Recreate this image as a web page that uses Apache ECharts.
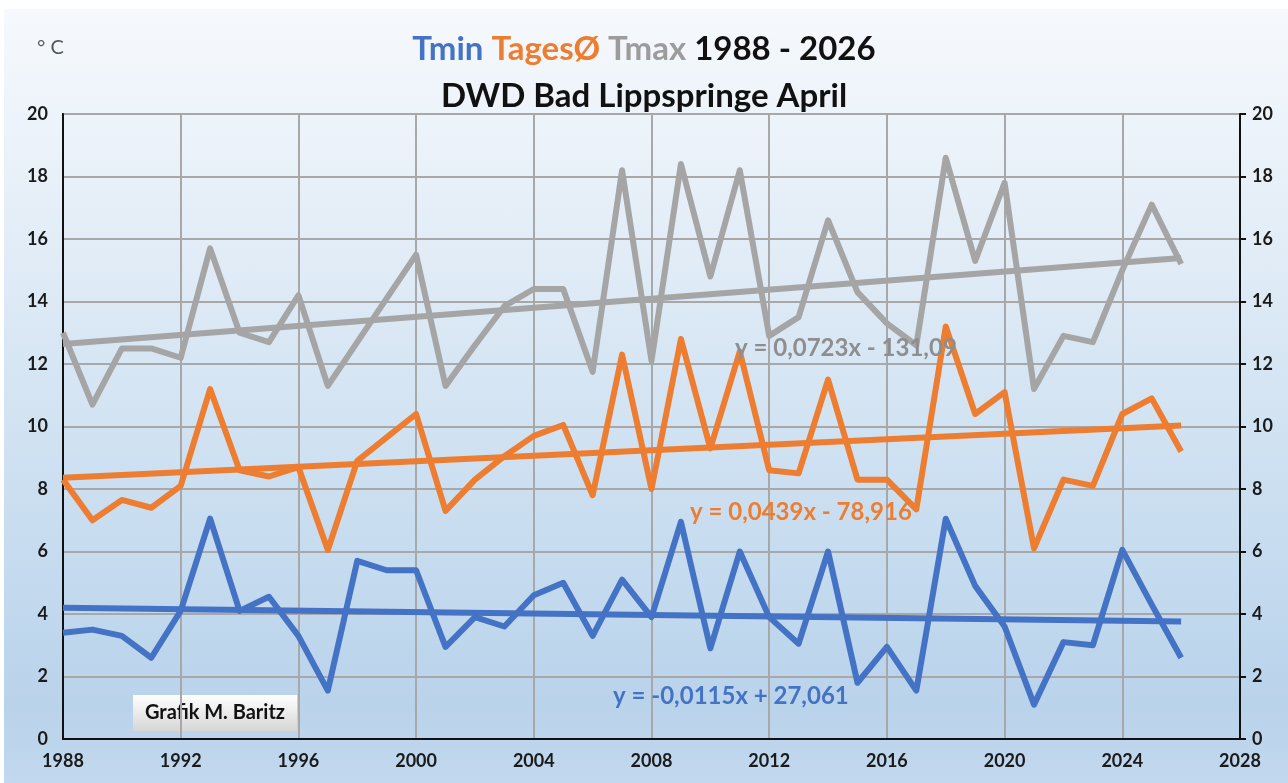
<!DOCTYPE html>
<html>
<head>
<meta charset="utf-8">
<script src="https://cdn.jsdelivr.net/npm/echarts@6/dist/echarts.min.js"></script>
<style>
  body { margin: 0; background: #fff; }
  .bg {
    position: absolute; left: 4px; top: 9px; width: 1284px; height: 774px;
    background: linear-gradient(to bottom, #f6f9fd 0%, #e6eff8 25%, #cde0f1 60%, #b9d3eb 90%, #c2d8ee 100%);
  }
  #chart { position: absolute; left: 0; top: 0; width: 1288px; height: 783px; }
</style>
</head>
<body>
<div class="bg"></div>
<div id="chart"></div>
<script>
// Jahre und Monatsmittel April (°C)
const years = [1988, 1989, 1990, 1991, 1992, 1993, 1994, 1995, 1996, 1997,
  1998, 1999, 2000, 2001, 2002, 2003, 2004, 2005, 2006, 2007,
  2008, 2009, 2010, 2011, 2012, 2013, 2014, 2015, 2016, 2017,
  2018, 2019, 2020, 2021, 2022, 2023, 2024, 2025, 2026];

const tmax = [13.0, 10.7, 12.5, 12.5, 12.2, 15.7, 13.0, 12.7, 14.2, 11.3,
  12.7, 14.1, 15.5, 11.3, 12.6, 13.85, 14.4, 14.4, 11.75, 18.2,
  12.1, 18.4, 14.8, 18.2, 12.9, 13.5, 16.6, 14.3, 13.3, 12.6,
  18.6, 15.3, 17.8, 11.2, 12.9, 12.7, 15.0, 17.1, 15.2];

const tages = [8.3, 7.0, 7.65, 7.4, 8.1, 11.2, 8.6, 8.4, 8.7, 6.05,
  8.9, 9.65, 10.4, 7.3, 8.3, 9.05, 9.7, 10.05, 7.8, 12.3,
  8.0, 12.8, 9.3, 12.4, 8.6, 8.5, 11.5, 8.3, 8.3, 7.35,
  13.2, 10.4, 11.1, 6.1, 8.3, 8.1, 10.4, 10.9, 9.2];

const tmin = [3.4, 3.5, 3.3, 2.6, 4.1, 7.05, 4.1, 4.55, 3.3, 1.55,
  5.7, 5.4, 5.4, 2.95, 3.9, 3.6, 4.6, 5.0, 3.3, 5.1,
  3.9, 6.95, 2.9, 6.0, 3.9, 3.05, 6.0, 1.8, 2.95, 1.55,
  7.05, 4.9, 3.6, 1.1, 3.1, 3.0, 6.05, 4.3, 2.6];

// Trendlinien (Anfang 1988 / Ende 2026)
const trendYears = [1988, 2026];
const tmaxTrend = [12.64, 15.39];
const tagesTrend = [8.36, 10.03];
const tminTrend = [4.20, 3.76];

const yTicks = [0, 2, 4, 6, 8, 10, 12, 14, 16, 18, 20];

const BLUE = '#4472c4';
const ORANGE = '#ed7d31';
const GRAY = '#a5a5a5';
const FONT = 'Lato, "Open Sans", sans-serif';

const pairs = (xs, ys) => xs.map((x, i) => [x, ys[i]]);

const lineSeries = (name, color, data, z) => ({
  name: name,
  type: 'line',
  data: data,
  showSymbol: false,
  symbol: 'none',
  z: z,
  lineStyle: { color: color, width: 6, join: 'round' },
  itemStyle: { color: color },
  animation: false
});

const chart = echarts.init(document.getElementById('chart'));

const labelStyle = { color: '#1a1a1a', fontFamily: FONT, fontWeight: 'bold', fontSize: 18 };
const titlePart = color => ({ color: color, fontSize: 33, fontWeight: 'bold', fontFamily: FONT });

const yAxisBase = {
  type: 'value',
  min: yTicks[0],
  max: yTicks[yTicks.length - 1],
  interval: 2,
  axisLine: { show: true, lineStyle: { color: '#111', width: 2 } },
  splitLine: { show: false }
};

chart.setOption({
  backgroundColor: 'transparent',
  textStyle: { fontFamily: FONT },
  title: [
    {
      text: '{b|Tmin }{o|TagesØ }{g|Tmax }{k|1988 - 2026}',
      left: 'center', top: 28,
      textStyle: {
        rich: {
          b: titlePart(BLUE),
          o: titlePart(ORANGE),
          g: titlePart('#9c9c9c'),
          k: titlePart('#111')
        }
      }
    },
    {
      text: 'DWD Bad Lippspringe April',
      left: 'center', top: 75,
      textStyle: titlePart('#111')
    }
  ],
  grid: {
    left: 63, right: 48, top: 114, bottom: 44,
    show: true, borderColor: '#111', borderWidth: 2, backgroundColor: 'transparent'
  },
  xAxis: {
    type: 'value',
    min: 1988, max: 2028, interval: 4,
    axisLine: { show: true, onZero: false, lineStyle: { color: '#111', width: 2 } },
    axisTick: { show: false },
    axisLabel: Object.assign({}, labelStyle, { margin: 13, formatter: v => String(v) }),
    splitLine: { show: true, lineStyle: { color: '#a8a8a8', width: 2 } }
  },
  yAxis: [
    Object.assign({}, yAxisBase, {
      position: 'left',
      axisTick: { show: false },
      axisLabel: Object.assign({}, labelStyle, { margin: 15 }),
      splitLine: { show: true, lineStyle: { color: '#a8a8a8', width: 2 } }
    }),
    Object.assign({}, yAxisBase, {
      position: 'right',
      axisTick: { show: true, length: 6, lineStyle: { color: '#111', width: 2 } },
      axisLabel: Object.assign({}, labelStyle, { margin: 12 })
    })
  ],
  series: [
    lineSeries('Tmax', GRAY, pairs(years, tmax), 3),
    lineSeries('TagesØ', ORANGE, pairs(years, tages), 3),
    lineSeries('Tmin', BLUE, pairs(years, tmin), 3),
    lineSeries('Trend Tmax', GRAY, pairs(trendYears, tmaxTrend), 4),
    lineSeries('Trend TagesØ', ORANGE, pairs(trendYears, tagesTrend), 4),
    lineSeries('Trend Tmin', BLUE, pairs(trendYears, tminTrend), 4)
  ],
  graphic: [
    {
      type: 'text', left: 37, top: 38,
      style: { text: '° C', fill: '#555', font: '20px ' + FONT }
    },
    {
      type: 'text', left: 735, top: 336, z: 10,
      style: { text: 'y = 0,0723x - 131,09', fill: '#8e8e8e', font: 'bold 24px ' + FONT }
    },
    {
      type: 'text', left: 690, top: 500, z: 10,
      style: { text: 'y = 0,0439x - 78,916', fill: ORANGE, font: 'bold 24px ' + FONT }
    },
    {
      type: 'text', left: 613, top: 684, z: 10,
      style: { text: 'y = -0,0115x + 27,061', fill: BLUE, font: 'bold 24px ' + FONT }
    },
    {
      type: 'group', left: 133, top: 695, z: 10,
      children: [
        {
          type: 'rect',
          shape: { x: 0, y: 0, width: 164, height: 36 },
          style: {
            fill: new echarts.graphic.LinearGradient(0, 0, 0, 1, [
              { offset: 0, color: '#ffffff' },
              { offset: 1, color: '#d6d6d6' }
            ])
          }
        },
        {
          type: 'text', x: 82, y: 18,
          style: {
            text: 'Grafik M. Baritz', fill: '#111',
            font: 'bold 20px ' + FONT, align: 'center', verticalAlign: 'middle'
          }
        }
      ]
    }
  ]
});
</script>
</body>
</html>
